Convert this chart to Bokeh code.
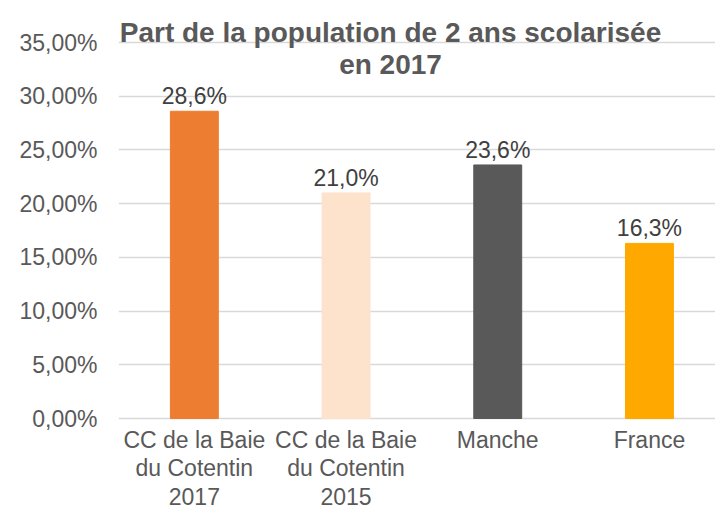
import numpy as np
from bokeh.plotting import figure
from bokeh.models import Range1d, FixedTicker, Label, ColumnDataSource
from bokeh.embed import file_html
from bokeh.resources import INLINE
from bokeh.core.properties import value

categories = ["CC de la Baie\ndu Cotentin\n2017", "CC de la Baie\ndu Cotentin\n2015", "Manche", "France"]
values = [28.6, 21.0, 23.6, 16.3]
colors = ["#ED7D31", "#FDE2CC", "#595959", "#FFA800"]
y_ticks = [0, 5, 10, 15, 20, 25, 30, 35]
y_tick_labels = ["0,00%", "5,00%", "10,00%", "15,00%", "20,00%", "25,00%", "30,00%", "35,00%"]
title_lines = ["Part de la population de 2 ans scolarisée", "en 2017"]

FONT = "Liberation Sans"
W, H = 715, 509
LEFT = 118
FRAME_W = W - LEFT
ZERO_Y = 418          # pixel row of the 0 line (from top)
px_per_unit_y = (418 - 42) / 35.0
y_end = ZERO_Y / px_per_unit_y
y_start = -(H - ZERO_Y) / px_per_unit_y
cat_px = 151.7
x_end = FRAME_W / cat_px

xs = [i + 0.5 for i in range(len(categories))]
labels = [("%.1f" % v).replace(".", ",") + "%" for v in values]
src = ColumnDataSource(dict(x=xs, top=values, color=colors, label=labels,
                            cat=categories, base=[0] * len(categories)))

p = figure(frame_width=FRAME_W, frame_height=H, output_backend="svg", toolbar_location=None,
           x_range=Range1d(0, x_end), y_range=Range1d(y_start, y_end),
           min_border_left=LEFT, min_border_right=0, min_border_top=0, min_border_bottom=0)
p.outline_line_color = None
p.background_fill_color = "white"
p.border_fill_color = "white"

p.vbar(x="x", top="top", bottom=0, width=0.316, color="color", source=src)
p.text(x="x", y="top", text="label", source=src, text_align="center", text_baseline="alphabetic",
       y_offset=-15, text_font=value(FONT), text_font_size="23px", text_color="#404040")
# category labels under the baseline
p.text(x="x", y="base", text="cat", source=src, text_align="center", text_baseline="top",
       y_offset=8, text_font=value(FONT), text_font_size="23px", text_color="#595959",
       text_line_height=1.1)

# axes
p.xaxis.visible = False
p.yaxis.ticker = FixedTicker(ticks=y_ticks)
p.yaxis.major_label_overrides = {t: l for t, l in zip(y_ticks, y_tick_labels)}
p.yaxis.axis_line_color = None
p.yaxis.major_tick_line_color = None
p.yaxis.minor_tick_line_color = None
p.yaxis.major_tick_out = 0
p.yaxis.major_tick_in = 0
p.yaxis.minor_tick_out = 0
p.yaxis.major_label_standoff = 21
p.yaxis.major_label_text_font = FONT
p.yaxis.major_label_text_font_size = "23px"
p.yaxis.major_label_text_color = "#595959"

p.xgrid.grid_line_color = None
p.ygrid.ticker = FixedTicker(ticks=y_ticks)
p.ygrid.grid_line_color = "#D9D9D9"
p.ygrid.grid_line_width = 1.5

tx = (390 - LEFT) / cat_px
for line, yy in zip(title_lines, [32, 64]):
    p.add_layout(Label(x=tx, y=(ZERO_Y - yy) / px_per_unit_y, text=line, text_align="center",
                       text_baseline="alphabetic", text_font=FONT, text_font_size="28px",
                       text_font_style="bold", text_color="#595959"))

open("out.html", "w").write(file_html(p, INLINE))
